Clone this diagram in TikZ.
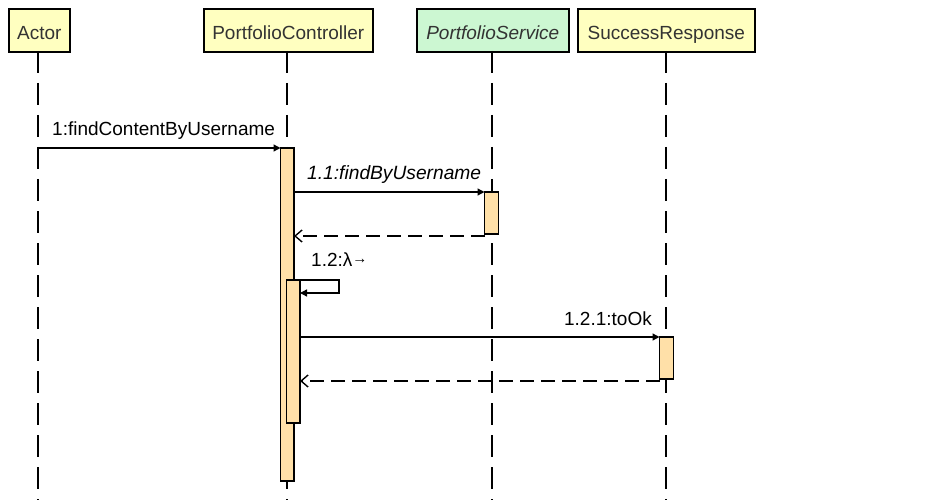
\documentclass[tikz,border=0pt]{standalone}
\usepackage{fontspec}
\setmainfont{Liberation Sans}
\usetikzlibrary{arrows.meta}
\definecolor{hdrY}{HTML}{FFFFC0}
\definecolor{hdrG}{HTML}{CCF7D2}
\definecolor{actF}{HTML}{FFE0A8}
\definecolor{hdrT}{HTML}{333333}
\begin{document}
\begin{tikzpicture}[x=1pt,y=-1pt,
  hdr/.style={draw=black,line width=1.6pt,fill=hdrY,text=hdrT,inner sep=0pt,anchor=north west,
    text height=30.5pt,text depth=12.5pt,font=\fontsize{19}{21}\selectfont},
  lifeline/.style={line width=1.3pt,dash pattern=on 22pt off 10pt},
  actbar/.style={draw=black,line width=1.4pt,fill=actF},
  msg/.style={line width=1.3pt,-{Triangle[length=7pt,width=7pt]}},
  ret/.style={line width=1.3pt,dash pattern=on 14pt off 7pt,-{Straight Barb[length=7pt,width=12pt,line width=1.4pt]}},
  lbl/.style={font=\fontsize{19}{21}\selectfont,inner sep=0pt}]
\useasboundingbox (0,0) rectangle (943,500);
% headers
\node[hdr,text width=61pt,align=center] (actor) at (8,8) {Actor};
\node[hdr,text width=169pt,align=center] (ctrl) at (203,8) {PortfolioController};
\node[hdr,fill=hdrG,text width=152pt,align=center] (svc) at (416,8) {\itshape PortfolioService};
\node[hdr,text width=177pt,align=center] (succ) at (577,8) {SuccessResponse};
% lifeline ends
\coordinate (aEnd) at (38,500);
\coordinate (cEnd) at (287,500);
\coordinate (sEnd) at (492,500);
\coordinate (rEnd) at (666,500);
\draw[lifeline] (38,51) -- (aEnd);
\draw[lifeline] (287,51) -- (cEnd);
\draw[lifeline] (492,51) -- (sEnd);
\draw[lifeline] (666,51) -- (rEnd);
% activation bars
\path[actbar] (280.5,148) rectangle (294,481);
\path[actbar] (484.5,192) rectangle (498.5,234);
\path[actbar] (286.5,280) rectangle (300,423);
\path[actbar] (659.5,337) rectangle (673.5,379);
% message coordinates
\coordinate (m1s) at (38,148);
\coordinate (m1e) at (280.5,148);
\coordinate (m2s) at (294,192);
\coordinate (m2e) at (484.5,192);
\coordinate (r2s) at (484.5,236);
\coordinate (r2e) at (294,236);
\coordinate (m3s) at (294,280);
\coordinate (m3e) at (300,293);
\coordinate (m4s) at (300,337);
\coordinate (m4e) at (659.5,337);
\coordinate (r4s) at (659.5,381);
\coordinate (r4e) at (300,381);
\draw[msg] (m1s) -- (m1e);
\draw[msg] (m2s) -- (m2e);
\draw[ret] (r2s) -- (r2e);
\draw[msg] (m3s) -- (339,280) -- (339,293) -- (m3e);
\draw[msg] (m4s) -- (m4e);
\draw[ret] (r4s) -- (r4e);
% labels
\node[lbl,anchor=base west] (l1) at (52,136) {1:findContentByUsername};
\node[lbl,anchor=base west] (l2) at (307,180) {\fontsize{19.2}{21}\selectfont\itshape 1.1:findByUsername};
\node[lbl,anchor=base west] (l3) at (311,266) {1.2:λ\raisebox{3pt}{\fontsize{15}{16}\selectfont→}};
\node[lbl,anchor=base east] (l4) at (652,325) {1.2.1:toOk};
\end{tikzpicture}
\end{document}
